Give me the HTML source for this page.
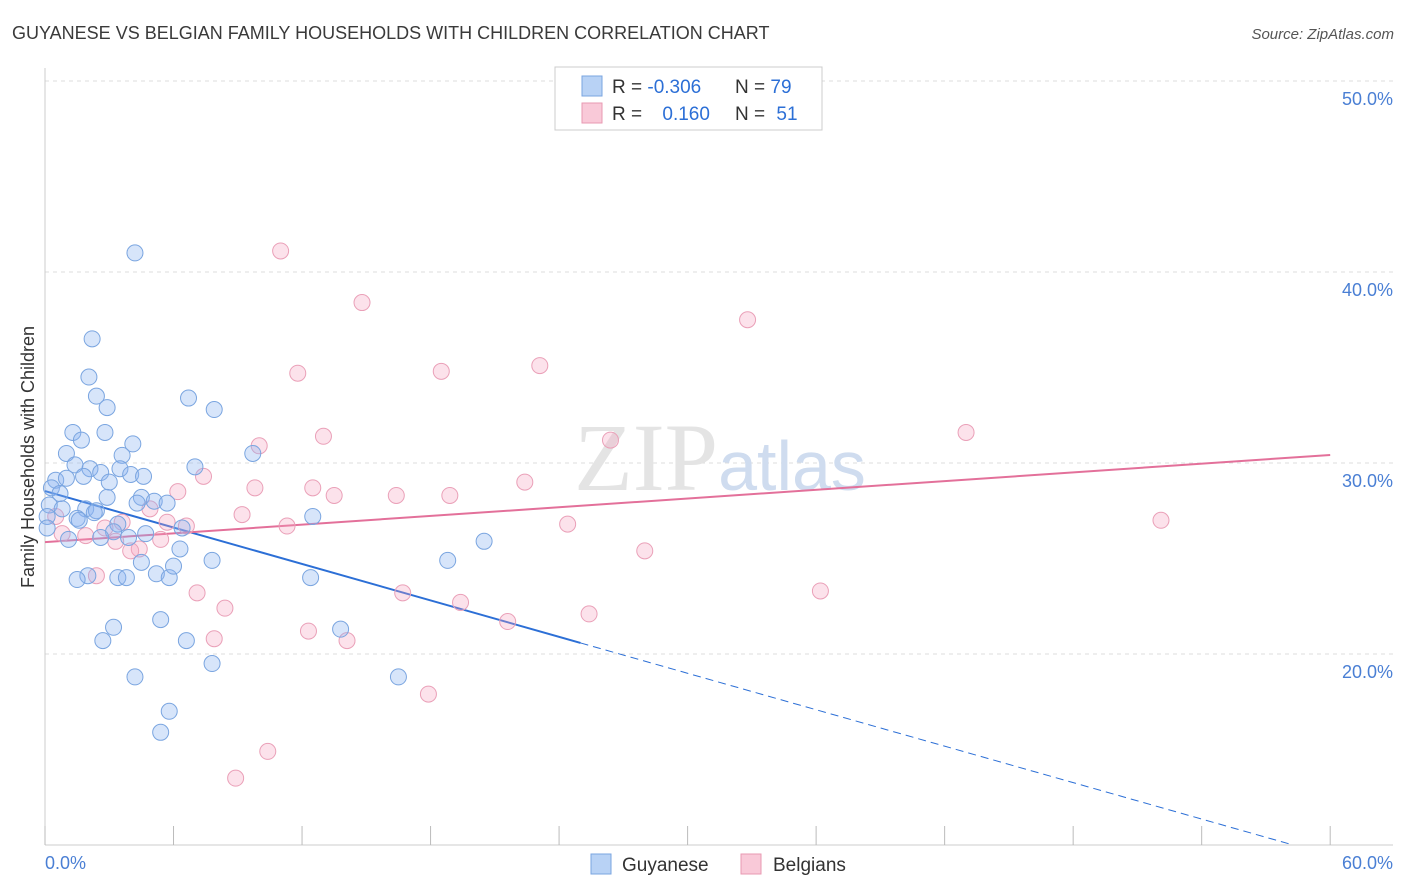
<!DOCTYPE html>
<html><head><meta charset="utf-8"><style>
body{margin:0;background:#fff;font-family:"Liberation Sans",sans-serif;}
</style></head><body>
<svg id="chart" width="1406" height="892" xmlns="http://www.w3.org/2000/svg" style="display:block">
<text x="12" y="39" font-size="18" fill="#3a3a3a" font-family="Liberation Sans, sans-serif">GUYANESE VS BELGIAN FAMILY HOUSEHOLDS WITH CHILDREN CORRELATION CHART</text>
<text x="1394" y="39" font-size="15" fill="#555" font-style="italic" text-anchor="end">Source: ZipAtlas.com</text>
<g id="grid"></g>
<text x="720" y="490" font-size="96" text-anchor="middle" fill="#e4e4e4" font-family="Liberation Serif, serif">ZIP<tspan fill="#cfdcef" font-family="Liberation Sans, sans-serif" font-size="70">atlas</tspan></text>
<line x1="45" y1="68" x2="45" y2="845" stroke="#ccc"/>
<line x1="45" y1="845" x2="1393" y2="845" stroke="#ccc"/>
<g id="ticks"></g>
<g id="lines"></g>
<g id="points"></g>
<text transform="translate(34,457) rotate(-90)" font-size="18" fill="#333" text-anchor="middle">Family Households with Children</text>
<text x="45" y="869" font-size="18" fill="#4a7fd4">0.0%</text>
<text x="1393" y="869" font-size="18" fill="#4a7fd4" text-anchor="end">60.0%</text>
<g>
<rect x="555" y="67" width="267" height="63" fill="#fff" stroke="#ccc"/>
<rect x="582" y="76" width="20" height="20" fill="#b8d2f5" stroke="#7aa5e0"/>
<rect x="582" y="103" width="20" height="20" fill="#f9c9d8" stroke="#e899b2"/>
<text x="612" y="93" font-size="19" fill="#333">R = <tspan fill="#2c6fd6">-0.306</tspan></text>
<text x="735" y="93" font-size="19" fill="#333">N = <tspan fill="#2c6fd6">79</tspan></text>
<text x="612" y="120" font-size="19" fill="#333">R = <tspan fill="#2c6fd6" dx="15">0.160</tspan></text>
<text x="735" y="120" font-size="19" fill="#333">N = <tspan fill="#2c6fd6" dx="6">51</tspan></text>
</g>
<g>
<rect x="591" y="854" width="20" height="20" fill="#b8d2f5" stroke="#7aa5e0"/>
<text x="622" y="871" font-size="19" fill="#333">Guyanese</text>
<rect x="741" y="854" width="20" height="20" fill="#f9c9d8" stroke="#e899b2"/>
<text x="773" y="871" font-size="19" fill="#333">Belgians</text>
</g>
</svg>
<script>
const yTicks=[20,30,40,50];
const xTickCount=10;
const guyaneseX=[4.2,2.2,2.05,2.4,2.9,6.7,7.9,1.3,1.7,2.8,4.1,1.0,3.6,9.7,1.4,2.1,2.6,3.5,4.0,4.6,7.0,0.5,1.0,1.8,3.0,0.3,0.7,2.9,4.5,4.3,5.1,5.7,0.2,0.8,1.9,2.4,0.1,1.5,1.6,2.3,12.5,3.4,0.1,3.2,3.9,4.7,6.4,1.1,2.6,6.3,20.5,4.5,7.8,18.8,2.0,1.5,3.4,3.8,5.2,5.8,6.0,12.4,5.4,3.2,13.8,2.7,6.6,7.8,4.2,16.5,5.8,5.4];
const guyaneseY=[41.0,36.5,34.5,33.5,32.9,33.4,32.8,31.6,31.2,31.6,31.0,30.5,30.4,30.5,29.9,29.7,29.5,29.7,29.4,29.3,29.8,29.1,29.2,29.3,29.0,28.7,28.4,28.2,28.2,27.9,28.0,27.9,27.8,27.6,27.6,27.5,27.2,27.1,27.0,27.4,27.2,26.8,26.6,26.4,26.1,26.3,26.6,26.0,26.1,25.5,25.9,24.8,24.9,24.9,24.1,23.9,24.0,24.0,24.2,24.0,24.6,24.0,21.8,21.4,21.3,20.7,20.7,19.5,18.8,18.8,17.0,15.9];
const belgianX=[11.0,14.8,32.8,11.8,18.5,23.1,13.0,26.4,43.0,10.0,7.4,22.4,6.2,9.8,12.5,13.5,16.4,18.9,4.9,9.2,0.5,3.6,5.7,6.6,11.3,24.4,52.1,2.8,0.8,1.9,3.3,5.4,4.4,4.0,28.0,2.4,7.1,16.7,36.2,8.4,19.4,25.4,21.6,12.3,7.9,14.1,17.9,10.4,8.9];
const belgianY=[41.1,38.4,37.5,34.7,34.8,35.1,31.4,31.2,31.6,30.9,29.3,29.0,28.5,28.7,28.7,28.3,28.3,28.3,27.6,27.3,27.2,26.9,26.9,26.7,26.7,26.8,27.0,26.6,26.3,26.2,25.9,26.0,25.5,25.4,25.4,24.1,23.2,23.2,23.3,22.4,22.7,22.1,21.7,21.2,20.8,20.7,17.9,14.9,13.5];
const guyaneseFit=[28.53,-0.318];
const belgianFit=[25.86,0.076];
const NS="http://www.w3.org/2000/svg";
const X=v=>45+v*21.42, Y=v=>1036-v*19.1;
function mk(t,a,p){const e=document.createElementNS(NS,t);for(const k in a)e.setAttribute(k,a[k]);p.appendChild(e);return e;}
const grid=document.getElementById('grid');
yTicks.forEach(t=>{
 const l=mk('line',{x1:45,x2:1393,y1:Y(t),y2:Y(t),stroke:'#ddd','stroke-dasharray':'4,4'},grid);
 
 
 const tx=mk('text',{x:1393,y:Y(t)+24,'font-size':18,fill:'#4a7fd4','text-anchor':'end'},grid);
 tx.textContent=t.toFixed(1)+'%';
 
 
});
const ticks=document.getElementById('ticks');
for(let i=0;i<=xTickCount;i++){
 const x=X(i*6);
 const l=mk('line',{x1:x,x2:x,y1:826,y2:845,stroke:'#bbb'},ticks);
 
 
}
const lines=document.getElementById('lines');
const gEnd=25;
let l1=mk('line',{x1:X(0),y1:Y(guyaneseFit[0]),x2:X(gEnd),y2:Y(guyaneseFit[0]+guyaneseFit[1]*gEnd),stroke:'#2c6fd6','stroke-width':2},lines);


const xEnd=(10.06-guyaneseFit[0])/guyaneseFit[1];
let l2=mk('line',{x1:X(gEnd),y1:Y(guyaneseFit[0]+guyaneseFit[1]*gEnd),x2:X(xEnd),y2:Y(10.06),stroke:'#2c6fd6','stroke-width':1,'stroke-dasharray':'8,5'},lines);


let l3=mk('line',{x1:X(0),y1:Y(belgianFit[0]),x2:X(60),y2:Y(belgianFit[0]+belgianFit[1]*60),stroke:'#e3709a','stroke-width':2},lines);


const pts=document.getElementById('points');
belgianX.forEach((v,i)=>{
 const c=mk('circle',{cx:X(v),cy:Y(belgianY[i]),r:8,fill:'rgba(244,160,190,0.3)',stroke:'#eaa0b8','stroke-width':1},pts);
 
 
});
guyaneseX.forEach((v,i)=>{
 const c=mk('circle',{cx:X(v),cy:Y(guyaneseY[i]),r:8,fill:'rgba(140,180,240,0.35)',stroke:'#7aa5e0','stroke-width':1},pts);
 
 
});
</script>
</body></html>
